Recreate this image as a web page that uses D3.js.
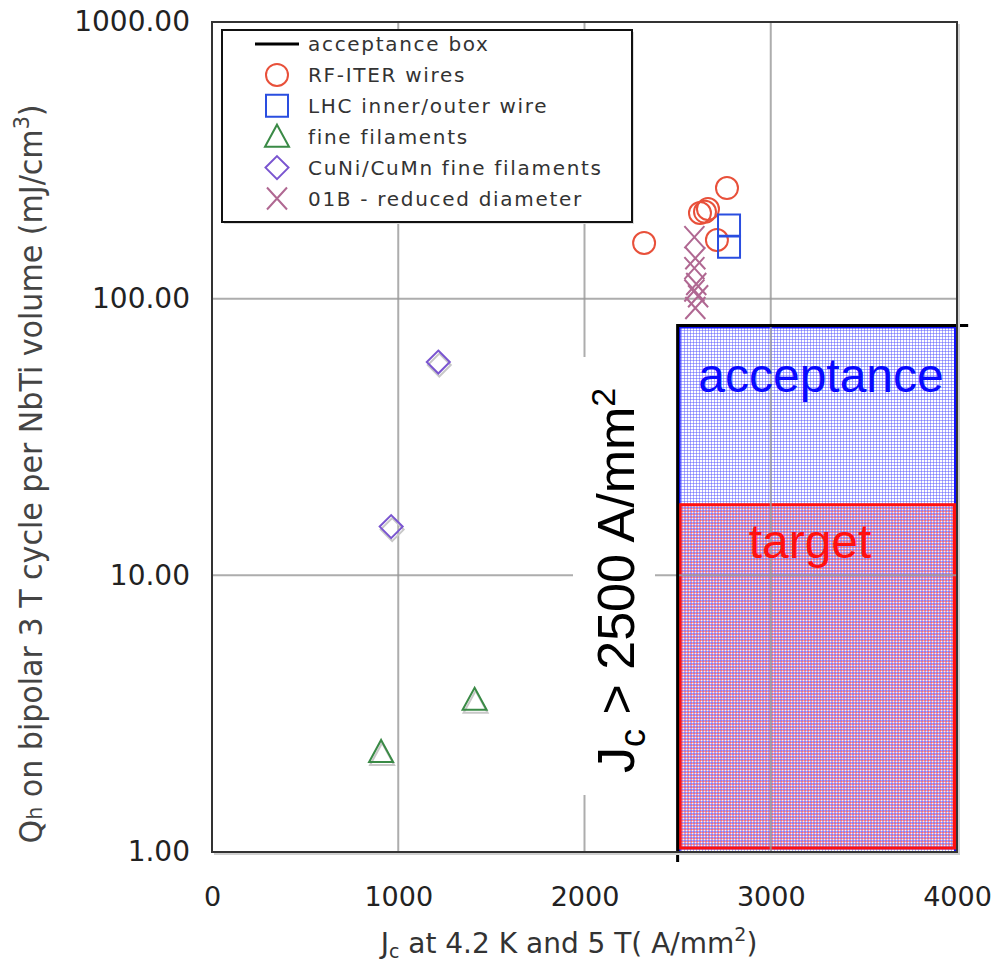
<!DOCTYPE html>
<html>
<head>
<meta charset="utf-8">
<script src="https://cdn.jsdelivr.net/npm/d3@7"></script>
<style>
  body { margin: 0; background: #fff; }
  svg { display: block; }
</style>
</head>
<body>
<div id="chart"></div>
<script>
// values
const xTicks = [0, 1000, 2000, 3000, 4000];
const yTicks = [1, 10, 100, 1000];
const xGrid = [1000, 2000, 3000];
const yGrid = [10, 100];

const rfIterJc = [2320, 2620, 2647, 2663, 2711, 2765];
const rfIterQ = [159, 204, 206, 211, 163, 251];

const lhcJc = [2776, 2776];
const lhcQ = [184, 154];

const fineJc = [1410, 908];
const fineQ = [3.55, 2.3];

const cuniJc = [1215, 962];
const cuniQ = [59, 15];

const b01Jc = [2590, 2595, 2590, 2600, 2590, 2610, 2595];
const b01Q = [167, 140, 129, 113, 107, 102, 92.5];

const boxLineJc = [2500, 2500, 4060];
const boxLineQ = [0.92, 80, 80];

const acceptJc = [2500, 4000];
const acceptQ = [1, 80];
const targetJc = [2500, 4000];
const targetQ = [1, 18];

const legendNames = ['acceptance box', 'RF-ITER wires', 'LHC inner/outer wire', 'fine filaments',
  'CuNi/CuMn fine filaments', '01B - reduced diameter'];
const legendKinds = ['line', 'circle', 'square', 'triangle', 'diamond', 'cross'];

const colors = {
  circle: '#e8503a',
  square: '#2a4ee0',
  triangle: '#3a8a46',
  diamond: '#7a55d0',
  cross: '#b06892',
  line: '#000'
};

const width = 994, height = 968;
const svg = d3.select('#chart').append('svg')
  .attr('width', width)
  .attr('height', height);

const x = d3.scaleLinear().domain([0, 4000]).range([212, 957]);
const y = d3.scaleLog().domain([1, 1000]).range([852, 22]);

const defs = svg.append('defs');
const pBlue = defs.append('pattern').attr('id', 'blueHatch')
  .attr('patternUnits', 'userSpaceOnUse').attr('width', 3).attr('height', 3);
pBlue.append('rect').attr('width', 3).attr('height', 3).attr('fill', '#fff');
pBlue.append('rect').attr('width', 3).attr('height', 1).attr('fill', '#5a5aff').attr('opacity', 0.5);
pBlue.append('rect').attr('width', 1).attr('height', 3).attr('fill', '#5a5aff').attr('opacity', 0.5);

const pRed = defs.append('pattern').attr('id', 'redHatch')
  .attr('patternUnits', 'userSpaceOnUse').attr('width', 3).attr('height', 3);
pRed.append('rect').attr('width', 3).attr('height', 3).attr('fill', '#f6eef8');
pRed.append('rect').attr('y', 1).attr('width', 3).attr('height', 1).attr('fill', '#ff3a3a').attr('opacity', 0.5);
pRed.append('rect').attr('x', 1).attr('width', 1).attr('height', 3).attr('fill', '#ff3a3a').attr('opacity', 0.45);
pRed.append('rect').attr('width', 3).attr('height', 1).attr('fill', '#5a5aff').attr('opacity', 0.5);
pRed.append('rect').attr('width', 1).attr('height', 3).attr('fill', '#5a5aff').attr('opacity', 0.45);

// acceptance / target boxes
svg.append('rect')
  .attr('x', x(acceptJc[0]) + 1.5)
  .attr('y', y(acceptQ[1]) + 1.5)
  .attr('width', x(acceptJc[1]) - x(acceptJc[0]) - 3)
  .attr('height', y(acceptQ[0]) - y(acceptQ[1]) - 1)
  .attr('fill', 'url(#blueHatch)')
  .attr('stroke', '#1010ff')
  .attr('stroke-width', 3);

svg.append('rect')
  .attr('x', x(targetJc[0]) + 2.5)
  .attr('y', y(targetQ[1]))
  .attr('width', x(targetJc[1]) - x(targetJc[0]) - 5)
  .attr('height', y(targetQ[0]) - y(targetQ[1]) - 4)
  .attr('fill', 'url(#redHatch)')
  .attr('stroke', '#ff1010')
  .attr('stroke-width', 3);

// grid
svg.append('g').selectAll('line').data(xGrid).join('line')
  .attr('x1', d => x(d)).attr('x2', d => x(d))
  .attr('y1', y(1000)).attr('y2', y(1))
  .attr('stroke', '#999').attr('stroke-width', 2).attr('opacity', 0.8);
svg.append('g').selectAll('line').data(yGrid).join('line')
  .attr('x1', x(0)).attr('x2', x(4000))
  .attr('y1', d => y(d)).attr('y2', d => y(d))
  .attr('stroke', '#999').attr('stroke-width', 2).attr('opacity', 0.8);

// box labels
svg.append('text')
  .attr('x', 821).attr('y', 392)
  .attr('text-anchor', 'middle')
  .attr('font-family', 'Liberation Sans, Arial, sans-serif')
  .attr('font-size', 48)
  .attr('fill', '#0a0aff')
  .text('acceptance');
svg.append('text')
  .attr('x', 810).attr('y', 558)
  .attr('text-anchor', 'middle')
  .attr('font-family', 'Liberation Sans, Arial, sans-serif')
  .attr('font-size', 48)
  .attr('fill', '#ff1010')
  .text('target');

// Jc > 2500 label with white backing
svg.append('rect')
  .attr('x', 573).attr('y', 357).attr('width', 82).attr('height', 438)
  .attr('fill', '#fff');
const jcText = svg.append('text')
  .attr('transform', 'translate(634,773) rotate(-90)')
  .attr('font-family', 'Liberation Sans, Arial, sans-serif')
  .attr('font-size', 52)
  .attr('fill', '#000');
jcText.append('tspan').text('J');
jcText.append('tspan').attr('font-size', 36).attr('dy', 11).text('c');
jcText.append('tspan').attr('dy', -11).text(' > 2500 A/mm');
jcText.append('tspan').attr('font-size', 34).attr('dy', -19).text('2');

// acceptance box line
svg.append('path')
  .datum(boxLineJc.map((d, i) => [d, boxLineQ[i]]))
  .attr('fill', 'none')
  .attr('stroke', '#000')
  .attr('stroke-width', 3)
  .attr('d', d3.line().x(d => x(d[0])).y(d => y(d[1])));

// markers
function markerPath(kind) {
  if (kind === 'square') return 'M-11,-11H11V11H-11Z';
  if (kind === 'triangle') return 'M0,-12L12,10H-12Z';
  if (kind === 'diamond') return 'M0,-11.5L11.5,0L0,11.5L-11.5,0Z';
  if (kind === 'cross') return 'M-10,-11L10,11M10,-11L-10,11';
  if (kind === 'line') return 'M-22,0H22';
  return 'M11,0A11,11 0 1,1 -11,0A11,11 0 1,1 11,0Z';
}

function drawSeries(jc, q, kind, shadow) {
  const g = svg.append('g');
  const pts = jc.map((d, i) => [d, q[i]]);
  if (shadow) {
    g.selectAll('path.sh').data(pts).join('path')
      .attr('class', 'sh')
      .attr('transform', d => `translate(${x(d[0]) + 1},${y(d[1]) + 3})`)
      .attr('d', markerPath(kind))
      .attr('fill', 'none')
      .attr('stroke', '#c8c8c8')
      .attr('stroke-width', 2);
  }
  g.selectAll('path.mk').data(pts).join('path')
    .attr('class', 'mk')
    .attr('transform', d => `translate(${x(d[0])},${y(d[1])})`)
    .attr('d', markerPath(kind))
    .attr('fill', 'none')
    .attr('stroke', colors[kind])
    .attr('stroke-width', 2);
}

drawSeries(b01Jc, b01Q, 'cross', false);
drawSeries(rfIterJc, rfIterQ, 'circle', false);
drawSeries(lhcJc, lhcQ, 'square', false);
drawSeries(cuniJc, cuniQ, 'diamond', true);
drawSeries(fineJc, fineQ, 'triangle', true);

// axes
const xAxis = d3.axisBottom(x).tickValues(xTicks).tickSize(0).tickPadding(35).tickFormat(d3.format('d'));
const gx = svg.append('g').attr('transform', `translate(0,${y(1)})`).call(xAxis);
gx.select('.domain').remove();
gx.selectAll('text')
  .attr('font-family', 'DejaVu Sans, Verdana, sans-serif')
  .attr('font-size', 27)
  .attr('fill', '#222');

const yAxis = d3.axisLeft(y).tickValues(yTicks).tickSize(0).tickPadding(22).tickFormat(d3.format('.2f'));
const gy = svg.append('g').attr('transform', `translate(${x(0)},0)`).call(yAxis);
gy.select('.domain').remove();
gy.selectAll('text')
  .attr('font-family', 'DejaVu Sans, Verdana, sans-serif')
  .attr('font-size', 28)
  .attr('fill', '#222');

// frame
svg.append('path')
  .attr('d', `M${x(0) + 2},${y(1) + 2}H${x(4000) + 2}V${y(1000) + 2}`)
  .attr('fill', 'none').attr('stroke', '#d0d0d0').attr('stroke-width', 2);
svg.append('rect')
  .attr('x', x(0)).attr('y', y(1000))
  .attr('width', x(4000) - x(0)).attr('height', y(1) - y(1000))
  .attr('fill', 'none').attr('stroke', '#333').attr('stroke-width', 2);

// axis titles
const xt = svg.append('text')
  .attr('x', 569).attr('y', 953)
  .attr('text-anchor', 'middle')
  .attr('font-family', 'DejaVu Sans, Verdana, sans-serif')
  .attr('font-size', 28)
  .attr('fill', '#333');
xt.append('tspan').text('J');
xt.append('tspan').attr('font-size', 19).attr('dy', 5).text('c');
xt.append('tspan').attr('dy', -5).text(' at 4.2 K and 5 T( A/mm');
xt.append('tspan').attr('font-size', 19).attr('dy', -12).text('2');
xt.append('tspan').attr('dy', 12).text(')');

const yt = svg.append('text')
  .attr('transform', 'translate(42,474) rotate(-90) scale(0.94,1)')
  .attr('text-anchor', 'middle')
  .attr('font-family', 'DejaVu Sans, Verdana, sans-serif')
  .attr('font-size', 32)
  .attr('fill', '#444');
yt.append('tspan').text('Q');
yt.append('tspan').attr('font-size', 22).text('h');
yt.append('tspan').text(' on bipolar 3 T cycle per NbTi volume (mJ/cm');
yt.append('tspan').attr('font-size', 22).attr('dy', -13).text('3');
yt.append('tspan').attr('dy', 13).text(')');

// legend
const lg = svg.append('g');
lg.append('rect')
  .attr('x', 224).attr('y', 32).attr('width', 410).attr('height', 192)
  .attr('fill', '#ddd');
lg.append('rect')
  .attr('x', 222).attr('y', 30).attr('width', 410).attr('height', 192)
  .attr('fill', '#fff').attr('stroke', '#111').attr('stroke-width', 2);

legendNames.forEach((name, i) => {
  const yy = 44 + i * 30.9;
  const kind = legendKinds[i];
  lg.append('path')
    .attr('transform', `translate(277,${yy})`)
    .attr('d', markerPath(kind))
    .attr('fill', 'none')
    .attr('stroke', colors[kind])
    .attr('stroke-width', kind === 'line' ? 3 : 2);
  lg.append('text')
    .attr('x', 308).attr('y', yy + 7)
    .attr('font-family', 'DejaVu Sans, Verdana, sans-serif')
    .attr('font-size', 20)
    .attr('letter-spacing', 1.7)
    .attr('fill', '#333')
    .text(name);
});
</script>
</body>
</html>
